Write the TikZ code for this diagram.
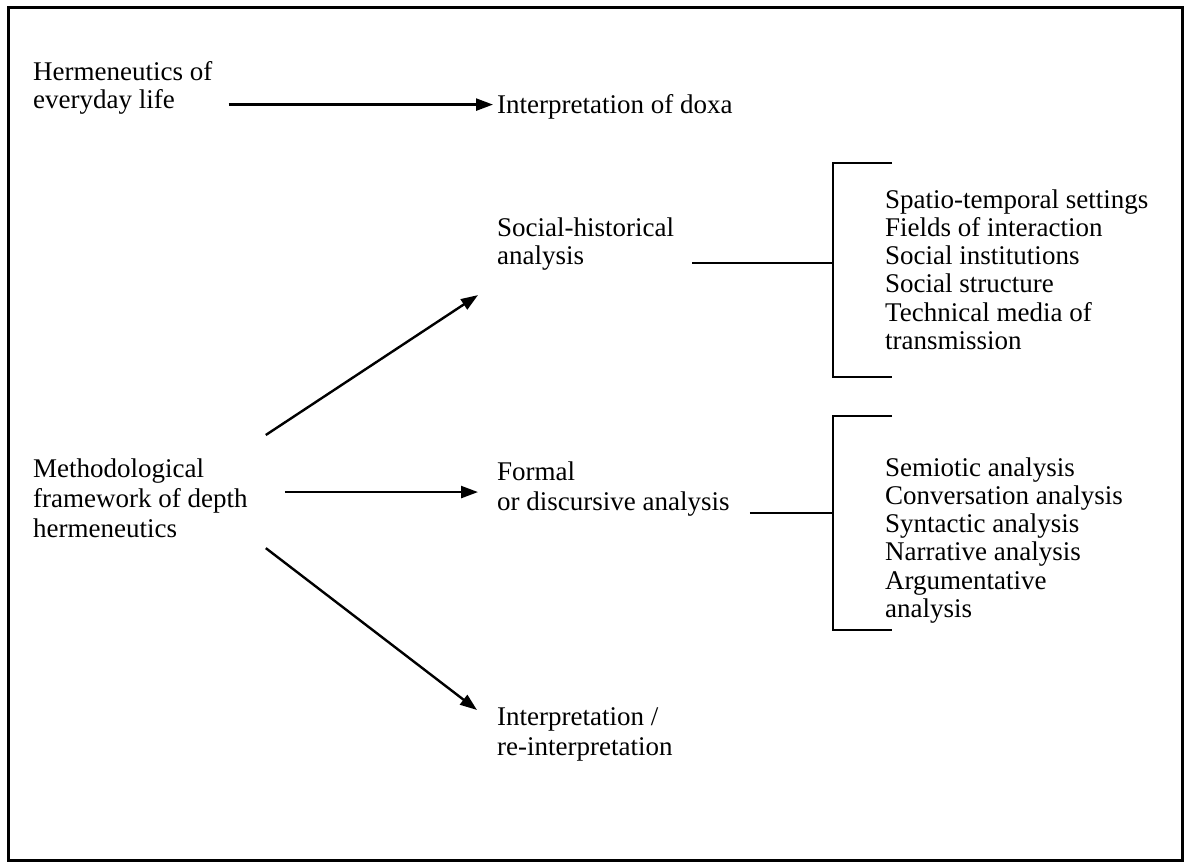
\documentclass[tikz,border=0pt]{standalone}
\usepackage{fontspec}
\setmainfont{Liberation Serif}
\usetikzlibrary{arrows.meta,calc}
\begin{document}
\begin{tikzpicture}[x=1pt,y=-1pt,
  lbl/.style={anchor=north west,inner sep=0pt,align=left,
    font=\fontsize{27}{30}\selectfont,
    execute at begin node=\strut,execute at end node=\strut},
  lst/.style={lbl,font=\fontsize{27}{28.2}\selectfont},
  arr/.style={line width=2.4pt,-{Triangle[length=17pt,width=12pt]}},
  link/.style={line width=2.2pt},
  brk/.style={line width=2.2pt}]
\useasboundingbox (0,0) rectangle (1188,866);
% outer frame
\draw[line width=3pt] (8,8) rectangle (1182,860);

% labels
\node[lst] (heb) at (33,61.3) {Hermeneutics of\\everyday life};
\node[lst] (doxa) at (497,93.3) {Interpretation of doxa};
\node[lst] (sh) at (497,217.3) {Social-historical\\analysis};
\node[lst] (list1) at (885,189.3) {Spatio-temporal settings\\Fields of interaction\\Social institutions\\Social structure\\Technical media of\\transmission};
\node[lbl] (meth) at (33,459) {Methodological\\framework of depth\\hermeneutics};
\node[lbl] (formal) at (497,462) {Formal\\or discursive analysis};
\node[lst] (list2) at (885,457.3) {Semiotic analysis\\Conversation analysis\\Syntactic analysis\\Narrative analysis\\Argumentative\\analysis};
\node[lbl] (interp) at (497,707) {Interpretation /\\re-interpretation};

% arrows
\draw[arr] ($(heb.east |- doxa.west)+(16,-3)$) -- ($(doxa.west)+(-4,-3)$);
\draw[arr] ($(meth.north east)+(18,-24)$) -- ($(sh.south west)+(-19,22)$);
\draw[arr] ($(meth.east)+(37,-11)$) -- ($(formal.west)+(-19,1)$);
\draw[arr] ($(meth.south east)+(18,1)$) -- ($(interp.north west)+(-20,3)$);

% brackets and their links
\coordinate (b1) at (833,263);
\coordinate (b2) at (833,513);
\draw[link] ($(sh.east |- b1)+(18,0)$) -- (b1);
\draw[link] ($(formal.east |- b2)+(20,0)$) -- (b2);
\draw[brk] ($(b1)+(59,-100)$) -| ($(b1)+(0,114)$) -- ($(b1)+(59,114)$);
\draw[brk] ($(b2)+(59,-97)$) -| ($(b2)+(0,117)$) -- ($(b2)+(59,117)$);
\end{tikzpicture}
\end{document}
